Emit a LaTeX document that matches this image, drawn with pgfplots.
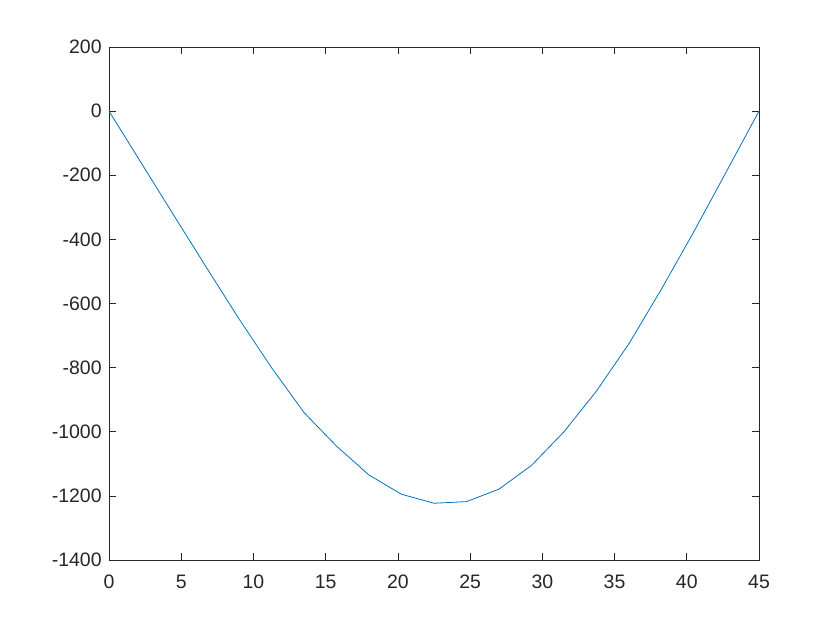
\documentclass[border=0pt]{standalone}
\usepackage{pgfplots}
\pgfplotsset{compat=1.18}
\usepackage{fontspec}
\setmainfont{Liberation Sans}
\definecolor{mblue}{rgb}{0,0.447,0.741}
\definecolor{axgray}{rgb}{0.15,0.15,0.15}
\begin{document}
\begin{tikzpicture}[x=1bp,y=1bp]
\path[use as bounding box] (0,0) rectangle (630,472.5);
\begin{axis}[
  at={(81.75bp,52.5bp)}, anchor=south west,
  scale only axis, width=487.5bp, height=384.75bp,
  xmin=0, xmax=45, ymin=-1400, ymax=200,
  xtick={0,5,...,45}, ytick={-1400,-1200,...,200},
  tick align=inside, major tick length=5bp,
  axis line style={axgray, line width=0.5pt},
  every tick/.style={axgray, line width=0.5pt},
  tick label style={font=\fontsize{14.6bp}{16bp}\selectfont, text=axgray},
  xticklabel style={yshift=-8bp},
  yticklabel style={xshift=-2bp},
  /pgf/number format/assume math mode=true,
  /pgf/number format/1000 sep={},
  scaled ticks=false,
  clip=false,
]
\addplot[mblue, line width=0.6pt] coordinates {
(0,0) (2.25,-163) (4.5,-326) (6.75,-488) (9,-648) (11.25,-800) (13.5,-940)
(15.75,-1045) (18,-1135) (20.25,-1195) (22.5,-1223) (24.75,-1218) (27,-1179)
(29.25,-1105) (31.5,-1000) (33.75,-873) (36,-725) (38.25,-555) (40.5,-375)
(42.75,-188) (45,0)
};
\end{axis}
\end{tikzpicture}
\end{document}
